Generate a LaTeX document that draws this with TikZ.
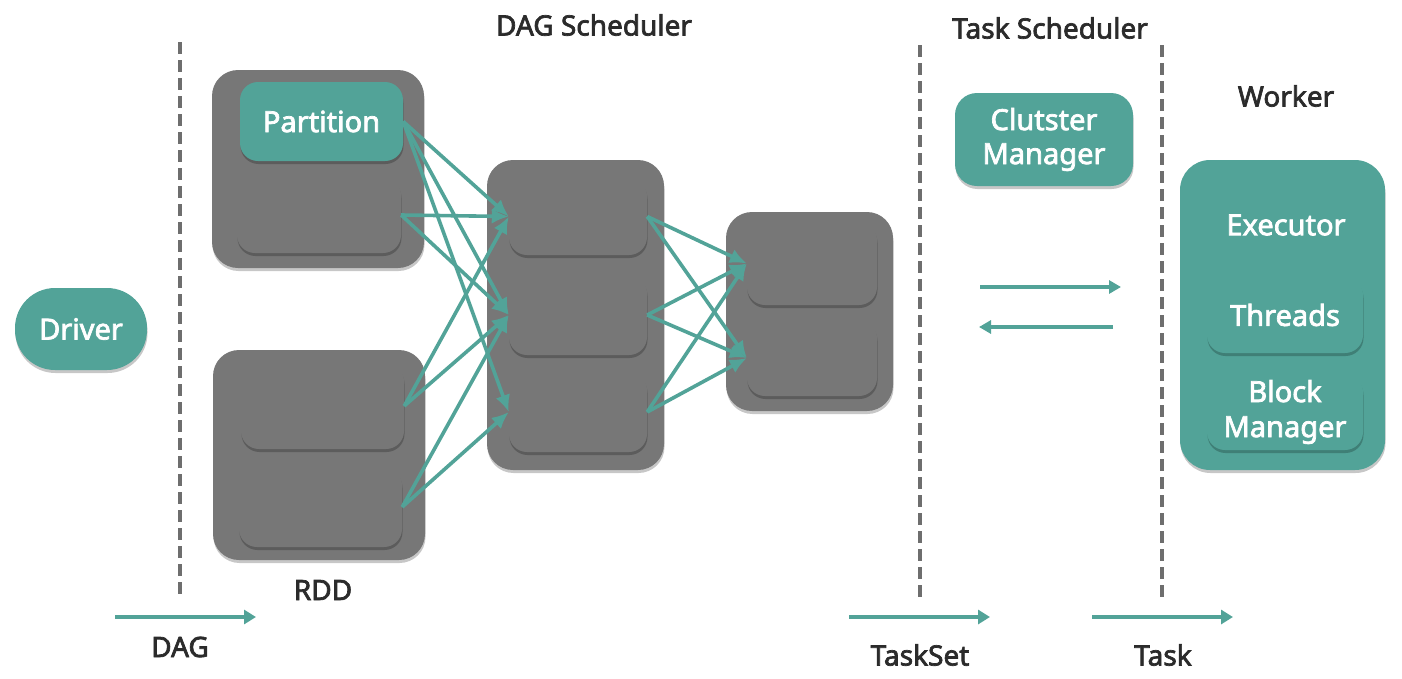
\documentclass[tikz,border=0pt]{standalone}
\usepackage{fontspec}
\setmainfont{Noto Sans}[BoldFont={Noto Sans},BoldFeatures={FakeBold=2.5}]
\usetikzlibrary{arrows.meta,shadows}
\definecolor{teal1}{HTML}{52A398}
\definecolor{gbox}{HTML}{777777}
\definecolor{dashc}{HTML}{6E6E6E}
\definecolor{txt}{HTML}{2B2B2B}
\tikzset{
  shad/.style={drop shadow={shadow xshift=0.5pt,shadow yshift=-3pt,opacity=0.22,fill=black}},
  outerbox/.style={fill=gbox,rounded corners=26pt,shad,inner sep=0pt},
  innerbox/.style={fill=gbox,rounded corners=18pt,shad,inner sep=0pt},
  tealbox/.style={fill=teal1,rounded corners=18pt,shad,text=white,align=center,inner sep=0pt,
     font=\fontsize{29}{34}\bfseries},
  title/.style={text=txt,font=\fontsize{28}{32}\bfseries,inner sep=0pt},
  sepline/.style={draw=dashc,line width=3.5pt,dash pattern=on 12pt off 6pt},
  conn/.style={draw=teal1,line width=3.6pt,-{Latex[length=17pt,width=15pt]}},
  bigarrow/.style={draw=teal1,line width=4.5pt,-{Triangle[length=12pt,width=14pt]}},
  midarrow/.style={draw=teal1,line width=4pt,-{Triangle[length=12pt,width=13pt]}},
}
\begin{document}
\begin{tikzpicture}[x=1pt,y=-1pt]
\useasboundingbox (0,0) rectangle (1402,678);
% separators
\coordinate (s1a) at (180,42); \coordinate (s1b) at (180,597);
\coordinate (s2a) at (920,45); \coordinate (s2b) at (920,598);
\coordinate (s3a) at (1162,45); \coordinate (s3b) at (1162,598);
\draw[sepline] (s1a) -- (s1b);
\draw[sepline] (s2a) -- (s2b);
\draw[sepline] (s3a) -- (s3b);
% titles
\node[title] (t1) at (594,25) {DAG Scheduler};
\node[title] (t2) at (1050,28) {Task Scheduler};
\node[title] (t3) at (1286,96) {Worker};
\node[title] (rddl) at (323,590) {RDD};
% driver
\node[tealbox,minimum width=132pt,minimum height=82pt,rounded corners=40pt] (driver) at (81,329) {Driver};
% RDD groups
\node[outerbox,minimum width=212pt,minimum height=198pt] (g1) at (318,169) {};
\node[tealbox,minimum width=163pt,minimum height=79pt] (part) at (321.5,121.5) {Partition};
\node[innerbox,minimum width=164pt,minimum height=76pt] (p2) at (319,215) {};
\node[outerbox,minimum width=212pt,minimum height=210pt] (g2) at (319,455) {};
\node[innerbox,minimum width=163pt,minimum height=86pt] (p3) at (322.5,406) {};
\node[innerbox,minimum width=163pt,minimum height=80pt] (p4) at (320.5,507) {};
% middle
\node[outerbox,minimum width=177pt,minimum height=310pt] (m) at (575.5,315) {};
\node[innerbox,minimum width=138pt,minimum height=77pt] (m1) at (578,216.5) {};
\node[innerbox,minimum width=138pt,minimum height=80pt] (m2) at (578,315) {};
\node[innerbox,minimum width=138pt,minimum height=80pt] (m3) at (578,412) {};
% right
\node[outerbox,minimum width=167pt,minimum height=199pt] (r) at (809.5,311.5) {};
\node[innerbox,minimum width=130pt,minimum height=83pt] (r1) at (812,263.5) {};
\node[innerbox,minimum width=130pt,minimum height=76pt] (r2) at (812,358) {};
% cluster manager
\node[tealbox,minimum width=178pt,minimum height=93pt,rounded corners=22pt] (cm) at (1044,139.5) {Clutster\\Manager};
% worker
\node[tealbox,minimum width=205pt,minimum height=310pt,rounded corners=30pt] (worker) at (1282.5,315) {};
\node[text=white,font=\fontsize{29}{34}\bfseries,inner sep=0pt] (exec) at (1286,225) {Executor};
\node[tealbox,minimum width=156pt,minimum height=76pt] (threads) at (1285,315) {Threads};
\node[tealbox,minimum width=156pt,minimum height=76pt,font=\fontsize{29}{35}\bfseries] (bm) at (1285,412) {Block\\Manager};
% connectors
\draw[conn] (part.east) -- (m1.west);
\draw[conn] (part.east) -- (m2.west);
\draw[conn] (part.east) -- (m3.west);
\draw[conn] (p2.east) -- (m1.west);
\draw[conn] (p2.east) -- (m2.west);
\draw[conn] (p3.east) -- (m1.west);
\draw[conn] (p3.east) -- (m2.west);
\draw[conn] (p4.east) -- (m2.west);
\draw[conn] (p4.east) -- (m3.west);
\draw[conn] (m1.east) -- (r1.west);
\draw[conn] (m1.east) -- (r2.west);
\draw[conn] (m2.east) -- (r1.west);
\draw[conn] (m2.east) -- (r2.west);
\draw[conn] (m3.east) -- (r1.west);
\draw[conn] (m3.east) -- (r2.west);
% scheduler <-> worker arrows
\coordinate (ha) at (980,287); \coordinate (hb) at (1121,287);
\coordinate (hc) at (1113,327); \coordinate (hd) at (979,327);
\draw[midarrow] (ha) -- (hb);
\draw[midarrow] (hc) -- (hd);
% bottom arrows
\coordinate (b1a) at (115,617); \coordinate (b1b) at (256,617);
\coordinate (b2a) at (849,617); \coordinate (b2b) at (990,617);
\coordinate (b3a) at (1092,617); \coordinate (b3b) at (1233,617);
\draw[bigarrow] (b1a) -- (b1b);
\draw[bigarrow] (b2a) -- (b2b);
\draw[bigarrow] (b3a) -- (b3b);
\node[title] (dagl) at (180,647) {DAG};
\node[title] (tsl) at (920,655) {TaskSet};
\node[title] (tl) at (1163,655) {Task};
\end{tikzpicture}
\end{document}
